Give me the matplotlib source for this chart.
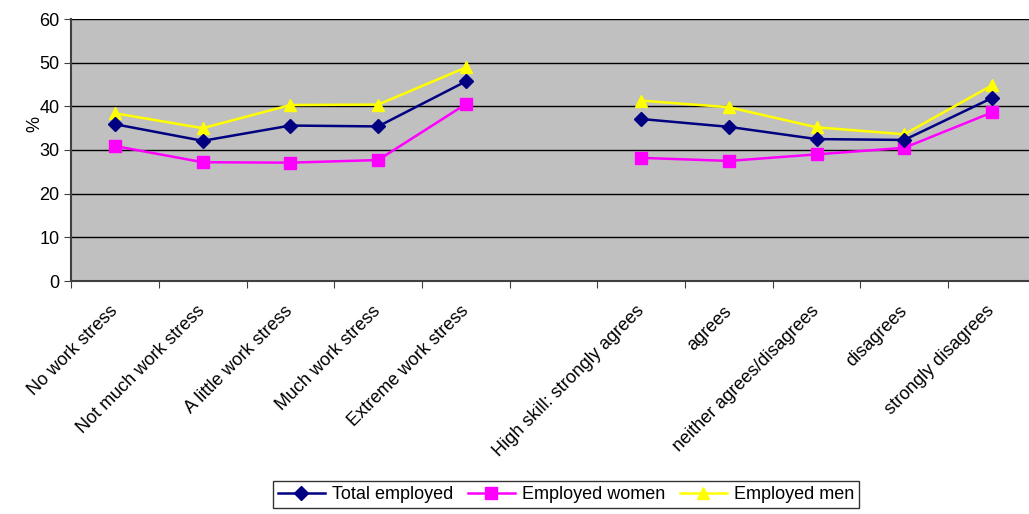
import numpy as np
import matplotlib.pyplot as plt

plt.rcParams['font.family'] = ['Liberation Sans', 'DejaVu Sans']

# categories (empty slot separates the two groups)
categories = ["No work stress", "Not much work stress", "A little work stress",
              "Much work stress", "Extreme work stress", "",
              "High skill: strongly agrees", "agrees", "neither agrees/disagrees",
              "disagrees", "strongly disagrees"]

total_employed = [35.9, 32.1, 35.6, 35.4, 45.7, np.nan, 37.1, 35.3, 32.5, 32.3, 41.9]
employed_women = [30.9, 27.2, 27.1, 27.7, 40.5, np.nan, 28.2, 27.5, 29.0, 30.5, 38.6]
employed_men = [38.4, 35.0, 40.3, 40.4, 48.9, np.nan, 41.3, 39.8, 35.2, 33.6, 44.8]

fig = plt.figure(figsize=(10.29, 5.14), dpi=100)
ax = fig.add_axes([71.2 / 1029, 1 - 281 / 514, (1035.8 - 71.2) / 1029, 262 / 514])
ax.set_facecolor('#C0C0C0')

x = np.arange(len(categories))
ax.plot(x, total_employed, color='#000080', lw=1.8, marker='D', ms=7,
        label='Total employed', zorder=4)
ax.plot(x, employed_women, color='#FF00FF', lw=1.8, marker='s', ms=8.5,
        label='Employed women', zorder=3)
ax.plot(x, employed_men, color='#FFFF00', lw=1.8, marker='^', ms=9,
        label='Employed men', zorder=3)

ax.set_xlim(-0.5, len(categories) - 0.5)
ax.set_ylim(0, 60)
ax.set_yticks(range(0, 61, 10))
ax.yaxis.grid(True, color='black', lw=1)
ax.set_axisbelow(True)
ax.set_ylabel('%', fontsize=13)
ax.yaxis.set_label_coords(-0.029, 0.6)

# tick marks at slot boundaries, labels at slot centres
ax.set_xticks(np.arange(-0.5, len(categories), 1))
ax.set_xticklabels([])
ax.set_xticks(x, minor=True)
ax.set_xticklabels(categories, minor=True, rotation=45, ha='right', va='center',
                   rotation_mode='anchor', fontsize=13)
ax.tick_params(axis='x', which='minor', length=0, pad=20)
ax.tick_params(axis='x', which='major', length=5, color='#404040', direction='out')
ax.tick_params(axis='y', length=5, color='#404040', labelsize=13)

for side in ['top', 'right']:
    ax.spines[side].set_visible(False)
for side in ['left', 'bottom']:
    ax.spines[side].set_color('#404040')
    ax.spines[side].set_linewidth(1.5)

leg = fig.legend(loc='center', bbox_to_anchor=(566 / 1029, 1 - 494.5 / 514), ncol=3,
                 fontsize=13, frameon=True, fancybox=False, edgecolor='black',
                 handlelength=2.6, columnspacing=0.8, handletextpad=0.4,
                 borderpad=0.25, borderaxespad=0)
leg.get_frame().set_linewidth(1)

fig.savefig('out.png', dpi=100)
